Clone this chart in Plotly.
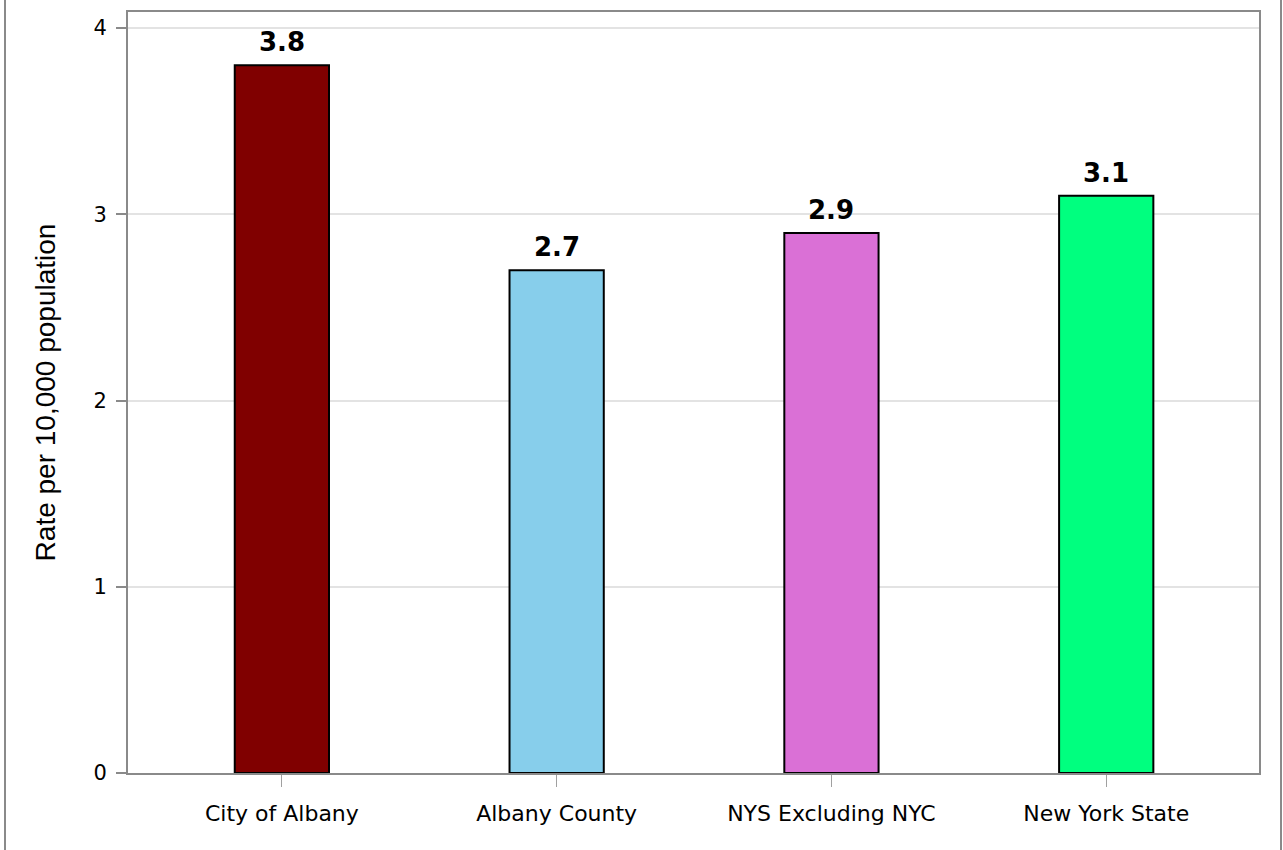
import plotly.graph_objects as go

categories = ["City of Albany", "Albany County", "NYS Excluding NYC", "New York State"]
values = [3.8, 2.7, 2.9, 3.1]
labels = ["3.8", "2.7", "2.9", "3.1"]
colors = ["#800000", "#87CEEB", "#DA70D6", "#00FF7F"]
y_ticks = [0, 1, 2, 3, 4]

W, H = 1283, 850
L, R, T, B = 128, 24, 10, 77
PW, PH = W - L - R, H - T - B

fig = go.Figure()
fig.add_trace(go.Bar(
    x=list(range(len(categories))), y=values,
    width=0.343,
    marker=dict(color=colors, line=dict(color="black", width=2)),
    hoverinfo="skip",
))
for i, (v, lab) in enumerate(zip(values, labels)):
    fig.add_annotation(x=i, y=v, text=lab, showarrow=False, yanchor="bottom",
                       yshift=6,
                       font=dict(family="DejaVu Sans", size=26, color="black", weight="bold"))

fig.update_layout(
    width=W, height=H,
    margin=dict(l=L, r=R, t=T, b=B),
    paper_bgcolor="white", plot_bgcolor="white",
    showlegend=False,
    font=dict(family="DejaVu Sans", color="black"),
)
fig.update_xaxes(
    tickmode="array", tickvals=list(range(len(categories))), ticktext=categories,
    range=[-0.56, 3.556],
    showline=True, linecolor="#8a8a8a", linewidth=2, mirror=True,
    ticks="outside", ticklen=12, tickcolor="#a0a0a0", tickwidth=1,
    ticklabelstandoff=8,
    tickfont=dict(family="DejaVu Sans", size=22, color="black"),
    showgrid=False, zeroline=False,
)
fig.update_yaxes(
    range=[0, 4.086], tickvals=y_ticks,
    showline=True, linecolor="#8a8a8a", linewidth=2, mirror=True,
    ticks="outside", ticklen=10, tickcolor="#8a8a8a", tickwidth=2,
    ticklabelstandoff=5,
    tickfont=dict(family="DejaVu Sans", size=21, color="black"),
    showgrid=True, gridcolor="#e3e3e3", gridwidth=2, zeroline=False,
    title=dict(text="Rate per 10,000 population", font=dict(family="Liberation Sans", size=28, color="black"), standoff=30),
)
# outer border (left and right edges visible)
for px in (5, 1281):
    fig.add_shape(type="line", xref="paper", yref="paper",
                  x0=(px - L) / PW, x1=(px - L) / PW,
                  y0=-(B + 5) / PH, y1=(PH + T + 5) / PH,
                  line=dict(color="#8a8a8a", width=2), layer="below")

fig.write_html("out.html", config={"displayModeBar": False},
               post_script="document.body.style.margin='0';document.body.style.overflow='hidden';")
